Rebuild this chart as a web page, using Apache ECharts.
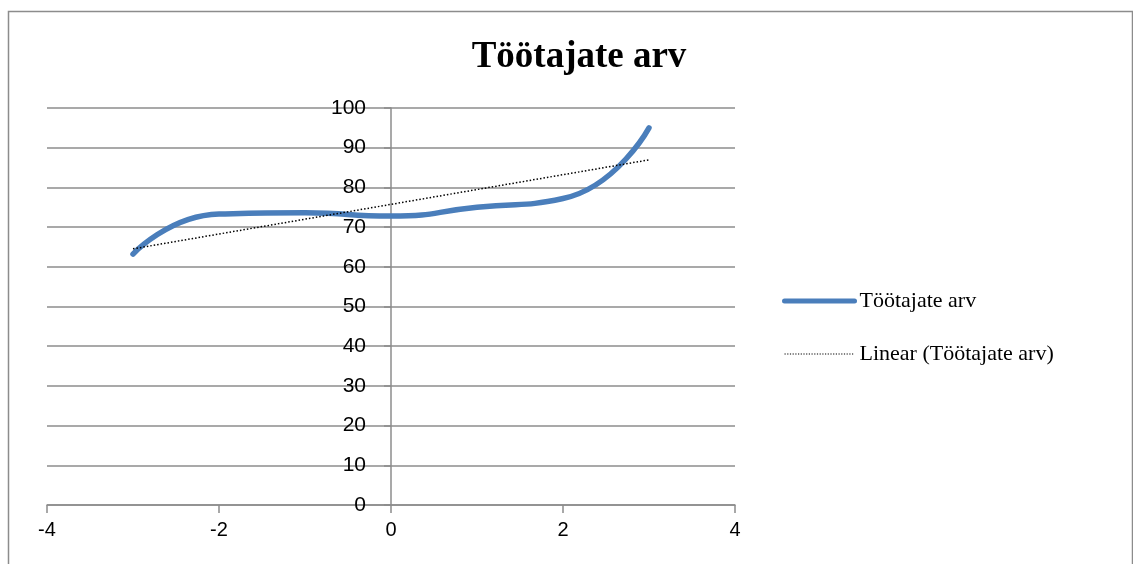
<!DOCTYPE html>
<html>
<head>
<meta charset="utf-8">
<script src="https://cdn.jsdelivr.net/npm/echarts@6/dist/echarts.min.js"></script>
<style>
  html, body { margin: 0; padding: 0; background: #fff; }
  #chart { width: 1133px; height: 564px; }
</style>
</head>
<body>
<div id="chart"></div>
<script>
// Employee count by period offset
const xValues = [-3, -2, -1, 0, 1, 2, 3];
const employees = [63.2, 73.3, 73.6, 72.8, 75.0, 77.2, 95.0];
const seriesName = 'Töötajate arv';
const trendName = 'Linear (Töötajate arv)';
const xTicks = [-4, -2, 0, 2, 4];

// Least-squares linear trend of the series
function linearTrend(xs, ys) {
  const n = xs.length;
  const mx = xs.reduce((a, b) => a + b, 0) / n;
  const my = ys.reduce((a, b) => a + b, 0) / n;
  let sxy = 0, sxx = 0;
  for (let i = 0; i < n; i++) {
    sxy += (xs[i] - mx) * (ys[i] - my);
    sxx += (xs[i] - mx) * (xs[i] - mx);
  }
  const k = sxy / sxx;
  return x => my + k * (x - mx);
}
const trend = linearTrend(xValues, employees);
const xFirst = xValues[0], xLast = xValues[xValues.length - 1];

const gridLeft = 47, gridRight = 398, chartWidth = 1133;
const xMin = -4, xMax = 4;
// horizontal distance from the grid's left edge to x = 0, where the value axis sits
const zeroOffset = (0 - xMin) / (xMax - xMin) * (chartWidth - gridLeft - gridRight);

const chart = echarts.init(document.getElementById('chart'));
chart.setOption({
  animation: false,
  backgroundColor: '#fff',
  title: {
    text: seriesName,
    left: 574,
    textAlign: 'center',
    top: 34,
    textStyle: { fontFamily: 'Liberation Serif', fontWeight: 'bold', fontSize: 37, color: '#000' }
  },
  graphic: [{
    type: 'rect',
    shape: { x: 8.5, y: 11.5, width: 1124, height: 600 },
    style: { fill: 'none', stroke: '#8c8c8c', lineWidth: 1.5 },
    silent: true
  }],
  legend: {
    orient: 'vertical',
    left: 782,
    top: 290,
    padding: 0,
    itemWidth: 70,
    itemHeight: 14,
    itemGap: 31,
    itemStyle: { opacity: 0 },
    textStyle: { fontFamily: 'Liberation Serif', fontSize: 22, color: '#000' },
    data: [
      { name: seriesName, lineStyle: { color: '#4a7ebb', width: 5, cap: 'round' } },
      { name: trendName, lineStyle: { color: '#000', width: 1.2, type: [1.2, 1.5] } }
    ]
  },
  grid: { left: gridLeft, right: gridRight, top: 108, bottom: 59, containLabel: false, outerBoundsMode: 'none' },
  xAxis: {
    type: 'value',
    min: xMin, max: xMax, interval: 2,
    axisLine: { show: true, onZero: false, lineStyle: { color: '#8c8c8c', width: 1.5 } },
    axisTick: { show: true, length: 8, inside: false, lineStyle: { color: '#8c8c8c', width: 1.5 } },
    axisLabel: {
      margin: 15,
      fontFamily: 'Liberation Sans', fontSize: 20, color: '#000',
      formatter: v => xTicks.includes(v) ? String(v) : ''
    },
    splitLine: { show: false }
  },
  yAxis: {
    type: 'value',
    position: 'left',
    offset: -zeroOffset,
    min: 0, max: 100, interval: 10,
    axisLine: { show: true, onZero: false, lineStyle: { color: '#8c8c8c', width: 1.5 } },
    axisTick: { show: true, length: 7, lineStyle: { color: '#8c8c8c', width: 1.5 } },
    axisLabel: { margin: 25, fontFamily: 'Liberation Sans', fontSize: 21, color: '#000' },
    splitLine: { show: true, lineStyle: { color: '#8c8c8c', width: 1.5 } }
  },
  series: [
    {
      name: seriesName,
      type: 'line',
      smooth: 0.55,
      symbol: 'none',
      data: xValues.map((x, i) => [x, employees[i]]),
      lineStyle: { color: '#4a7ebb', width: 5.5, cap: 'round' },
      itemStyle: { color: '#4a7ebb' },
      z: 3
    },
    {
      name: trendName,
      type: 'line',
      symbol: 'none',
      data: [[xFirst, trend(xFirst)], [xLast, trend(xLast)]],
      lineStyle: { color: '#000', width: 1.5, type: [1.5, 2] },
      itemStyle: { color: '#000' },
      z: 4
    }
  ]
});
</script>
</body>
</html>
